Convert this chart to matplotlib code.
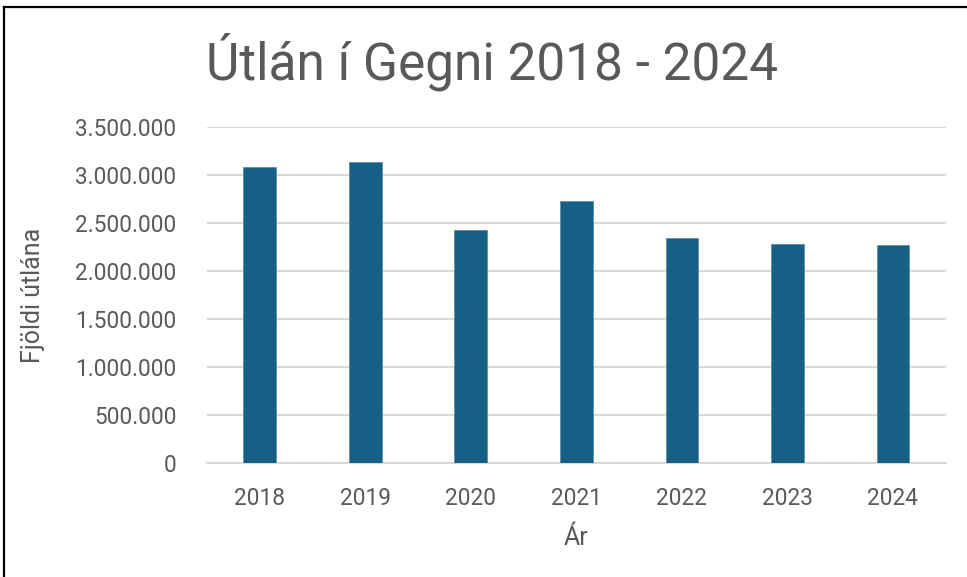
import numpy as np
import matplotlib
matplotlib.use('Agg')
import matplotlib.pyplot as plt
from matplotlib.ticker import FuncFormatter
from matplotlib.lines import Line2D

years = ['2018', '2019', '2020', '2021', '2022', '2023', '2024']
loans = [3080000, 3132000, 2424000, 2726000, 2340000, 2278000, 2268000]

txt = '#595959'
bar_clr = '#176085'
plt.rcParams['font.family'] = ['Roboto', 'DejaVu Sans']

fig = plt.figure(figsize=(9.67, 5.77), dpi=100)
ax = fig.add_axes([0.214, 0.1976, 0.764, 0.5824])

x = np.arange(len(years))
ax.bar(x, loans, width=0.31, color=bar_clr, edgecolor='#5b8fab', linewidth=0.6, zorder=3)

ax.set_xlim(-0.5, len(years) - 0.5)
ax.set_ylim(0, 3500000)
ax.set_yticks(np.arange(0, 3500001, 500000))
ax.yaxis.set_major_formatter(FuncFormatter(lambda v, p: f'{int(v):,}'.replace(',', '.')))
ax.set_xticks(x)
ax.set_xticklabels(years)
ax.grid(axis='y', color='#d9d9d9', linewidth=1.5, zorder=0)
for s in ['top', 'right', 'left']:
    ax.spines[s].set_visible(False)
ax.spines['bottom'].set_color('#d9d9d9')
ax.spines['bottom'].set_linewidth(1.5)
ax.tick_params(axis='both', length=0, labelsize=16.3, labelcolor=txt)
ax.tick_params(axis='y', pad=22)
ax.tick_params(axis='x', pad=17)

ax.set_xlabel('Ár', fontsize=18, color=txt, labelpad=12)
ax.set_ylabel('Fjöldi útlána', fontsize=18, color=txt, labelpad=22)
fig.text(0.509, 0.893, 'Útlán í Gegni 2018 - 2024', fontsize=37, color=txt, ha='center', va='center')

# frame of the screenshot (left + top)
fig.add_artist(Line2D([0.004, 0.004], [0, 0.988], transform=fig.transFigure, color='black', lw=1.6))
fig.add_artist(Line2D([0.004, 1.0], [0.988, 0.988], transform=fig.transFigure, color='black', lw=1.6))

fig.savefig('out.png', dpi=100)
